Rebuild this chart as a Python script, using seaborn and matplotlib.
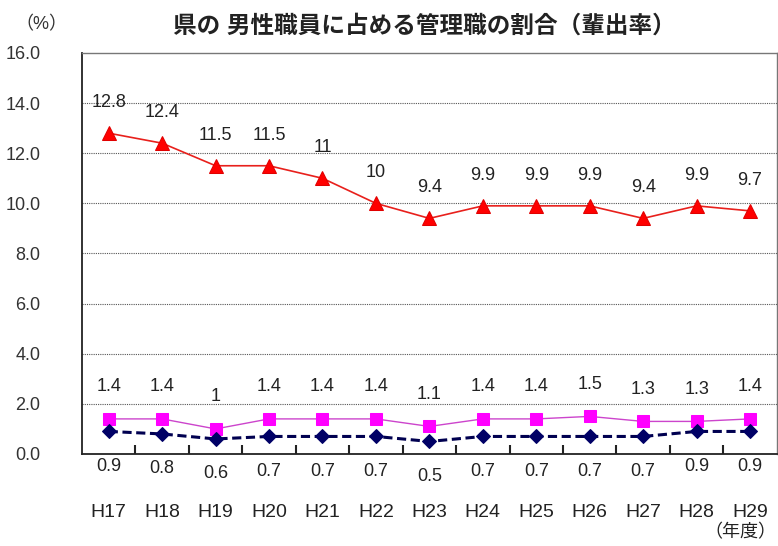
import pandas as pd
import seaborn as sns
import matplotlib.pyplot as plt
import numpy as np

years = ['H17', 'H18', 'H19', 'H20', 'H21', 'H22', 'H23', 'H24', 'H25', 'H26', 'H27', 'H28', 'H29']
kanri = [12.8, 12.4, 11.5, 11.5, 11, 10, 9.4, 9.9, 9.9, 9.9, 9.4, 9.9, 9.7]
pink_vals = [1.4, 1.4, 1, 1.4, 1.4, 1.4, 1.1, 1.4, 1.4, 1.5, 1.3, 1.3, 1.4]
navy_vals = [0.9, 0.8, 0.6, 0.7, 0.7, 0.7, 0.5, 0.7, 0.7, 0.7, 0.7, 0.9, 0.9]

df = pd.DataFrame({'idx': np.arange(len(years)), 'year': years,
                   'red': kanri, 'pink': pink_vals, 'navy': navy_vals})

sns.set_style('white')
plt.rcParams['font.family'] = ['Liberation Sans', 'Noto Sans CJK JP', 'DejaVu Sans']

fig = plt.figure(figsize=(7.78, 5.46), dpi=100)
ax = fig.add_axes([0.1054, 0.1685, 0.893, 0.7345])

sns.lineplot(data=df, x='idx', y='red', ax=ax, color='#e8201c', lw=1.2,
             marker='^', markersize=10, markeredgecolor='#e00000', markerfacecolor='#ff0000')
sns.lineplot(data=df, x='idx', y='pink', ax=ax, color='#cc44cc', lw=1.0,
             marker='s', markersize=9, markeredgecolor='#ff00ff', markerfacecolor='#ff00ff')
sns.lineplot(data=df, x='idx', y='navy', ax=ax, color='#000050', lw=2.2, linestyle=(0, (3, 1.5)),
             marker='D', markersize=7, markeredgecolor='#000066', markerfacecolor='#000066')


def fmt(v):
    return str(int(v)) if float(v).is_integer() else str(v)


for i in range(len(years)):
    ax.annotate(fmt(kanri[i]), (i, kanri[i]), xytext=(0, 16), textcoords='offset points',
                ha='center', va='bottom', fontsize=13, color='#222222')
    ax.annotate(fmt(pink_vals[i]), (i, pink_vals[i]), xytext=(0, 17), textcoords='offset points',
                ha='center', va='bottom', fontsize=13, color='#222222')
    ax.annotate(fmt(navy_vals[i]), (i, navy_vals[i]), xytext=(0, -19), textcoords='offset points',
                ha='center', va='top', fontsize=13, color='#222222', annotation_clip=False)

ax.set_xlim(-0.5, len(years) - 0.5)
ax.set_ylim(0, 16)
ax.set_yticks(np.arange(0, 16.1, 2))
ax.set_yticklabels([f'{v:.1f}' for v in np.arange(0, 16.1, 2)], fontsize=13, color='#333333')
ax.set_xticks(range(len(years)))
ax.set_xticklabels(years, fontsize=14, color='#222222')
ax.tick_params(axis='x', length=0, pad=36)
ax.tick_params(axis='y', length=0, pad=30)

# category boundary ticks pointing up from the x axis
ax.vlines(np.arange(0.5, len(years) - 1, 1), 0, 0.022, transform=ax.get_xaxis_transform(),
          color='#222222', lw=1.5, zorder=3)

for v in np.arange(2, 15, 2):
    ax.axhline(v, color='#555555', lw=0.8, ls=(0, (1, 1)), zorder=0)

ax.set_xlabel('')
ax.set_ylabel('')
for s in ['left', 'bottom']:
    ax.spines[s].set_color('#222222')
    ax.spines[s].set_linewidth(1.3)
for s in ['top', 'right']:
    ax.spines[s].set_color('#777777')
    ax.spines[s].set_linewidth(1.0)

fig.text(0.02, 0.955, '（%）', fontsize=13, color='#333333', va='center')
fig.text(0.545, 0.953, '県の 男性職員に占める管理職の割合（輩出率）', fontsize=17, fontweight='bold',
         ha='center', va='center', color='#222222')
fig.text(0.998, 0.025, '（年度）', fontsize=13, ha='right', va='center', color='#222222')

fig.savefig('out.png', dpi=100)
